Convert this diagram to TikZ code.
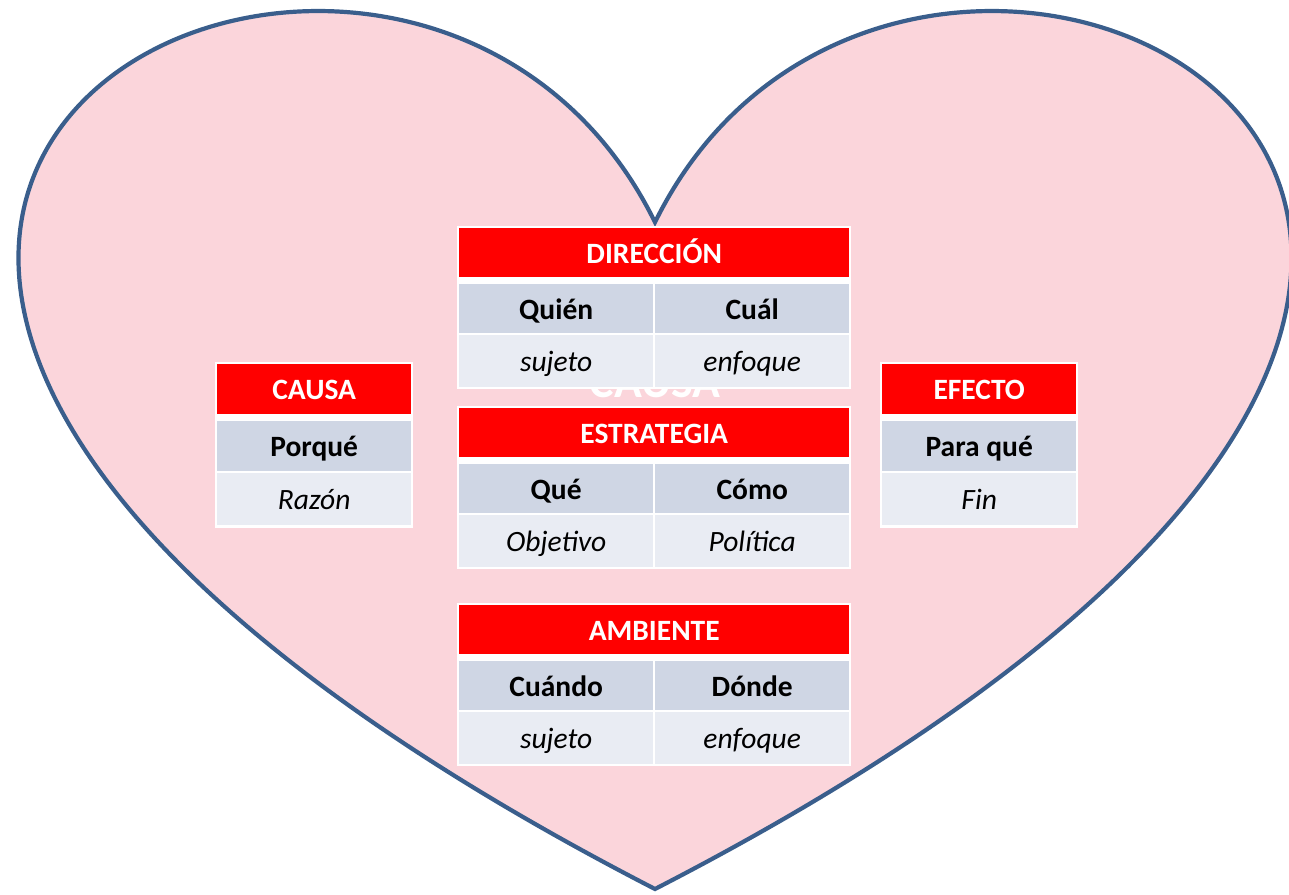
\documentclass[tikz,border=0pt]{standalone}
\usepackage{fontspec}
\setmainfont{Carlito}
\definecolor{heartfill}{RGB}{251,213,219}
\definecolor{heartline}{RGB}{58,94,140}
\definecolor{hred}{RGB}{255,0,0}
\definecolor{rowA}{RGB}{207,214,228}
\definecolor{rowB}{RGB}{233,236,243}
\tikzset{
  cellbase/.style={anchor=north west, inner sep=0pt, draw=none, text height=21pt, text depth=0pt},
  outerbox/.style={anchor=north west, inner sep=0pt, fill=white, draw=none},
  hdr/.style={cellbase, fill=hred, text=white, minimum height=49pt, font=\fontsize{29.5}{34}\selectfont\bfseries},
  rowone/.style={cellbase, fill=rowA, minimum height=49pt, font=\fontsize{29.5}{34}\selectfont\bfseries},
  rowtwo/.style={cellbase, fill=rowB, minimum height=52pt, font=\fontsize{29.5}{34}\selectfont\itshape},
}
\newcommand{\tabletwo}[8]{%
  \node[outerbox, minimum width=394pt, minimum height=163pt] (#1) at (#2,#3) {};
  \node[hdr, minimum width=390pt] (#1-h) at (#2+2,#3+2) {#4};
  \node[rowone, minimum width=194pt] (#1-a) at (#2+2,#3+58) {#5};
  \node[rowone, minimum width=194pt] (#1-b) at (#2+198,#3+58) {#6};
  \node[rowtwo, minimum width=194pt] (#1-c) at (#2+2,#3+109) {#7};
  \node[rowtwo, minimum width=194pt] (#1-d) at (#2+198,#3+109) {#8};
}
\newcommand{\tableone}[6]{%
  \node[outerbox, minimum width=198pt, minimum height=166pt] (#1) at (#2,#3) {};
  \node[hdr, minimum width=194pt, minimum height=50pt] (#1-h) at (#2+2,#3+2) {#4};
  \node[rowone, minimum width=194pt, minimum height=50pt] (#1-a) at (#2+2,#3+59) {#5};
  \node[rowtwo, minimum width=194pt] (#1-c) at (#2+2,#3+111) {#6};
}
\begin{document}
\begin{tikzpicture}[x=1pt,y=-1pt]
\useasboundingbox (0,0) rectangle (1289,894);
% heart
\path[fill=heartfill, draw=heartline, line width=4.2pt, line join=miter]
  (655,222.25) .. controls (910,-296.3) and (1950,222.25) .. (655,889)
  .. controls (-640,222.25) and (400,-296.3) .. (655,222.25) -- cycle;
% ghost text behind the tables
\node[anchor=base, inner sep=0pt, text=white, font=\fontsize{46}{50}\selectfont\bfseries] (ghost) at (655,397) {CAUSA};
% tables
\tabletwo{dir}{457}{226}{DIRECCIÓN}{Quién}{Cuál}{sujeto}{enfoque}
\tabletwo{est}{457}{406}{ESTRATEGIA}{Qué}{Cómo}{Objetivo}{Política}
\tabletwo{amb}{457}{603}{AMBIENTE}{Cuándo}{Dónde}{sujeto}{enfoque}
\tableone{cau}{215}{362}{CAUSA}{Porqué}{Razón}
\tableone{efe}{880}{362}{EFECTO}{Para qué}{Fin}
\end{tikzpicture}
\end{document}
